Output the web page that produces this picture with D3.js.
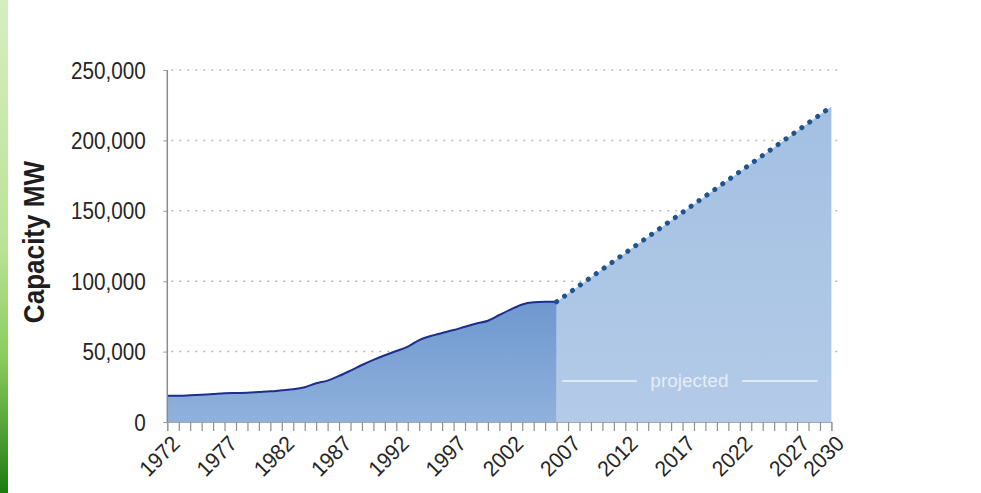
<!DOCTYPE html>
<html><head><meta charset="utf-8">
<script src="https://cdn.jsdelivr.net/npm/d3@7"></script>
<style>body{margin:0;background:#fff;}svg{display:block;}</style>
</head><body>
<svg id="c" width="981" height="493"></svg>
<script>
const histYears = d3.range(1972, 2007);
const histValues = [18700,18700,19000,19400,19900,20400,20600,20800,21300,21800,22500,23200,24700,27500,29400,32700,36500,40500,44100,47400,50400,53500,58200,61100,63200,65300,67700,70000,71900,76000,80000,83500,85000,85400,85400];
const projYears = [2006, 2030];
const projValues = [85400, 224000];
const yTicks = [0,50000,100000,150000,200000,250000];
const xLabelYears = [1972,1977,1982,1987,1992,1997,2002,2007,2012,2017,2022,2027,2030];
const yTitle = "Capacity MW";
const projLabel = "projected";

const svg = d3.select("#c");
const font = "'Liberation Sans',Arial,sans-serif";
const x = d3.scaleLinear().domain([1972,2030]).range([167.3,831.4]);
const y = d3.scaleLinear().domain([0,250000]).range([422,70]);

const defs = svg.append("defs");
const g1 = defs.append("linearGradient").attr("id","green").attr("x1",0).attr("y1",0).attr("x2",0).attr("y2",1);
[[0,"#d6eec0"],[0.5,"#bae397"],[0.72,"#8ccd5e"],[0.86,"#58a63a"],[1,"#1c7a12"]]
  .forEach(s=>g1.append("stop").attr("offset",s[0]).attr("stop-color",s[1]));
const g2 = defs.append("linearGradient").attr("id","hist").attr("x1",0).attr("y1",0).attr("x2",0).attr("y2",1);
g2.append("stop").attr("offset","0").attr("stop-color","#6f98cf");
g2.append("stop").attr("offset","1").attr("stop-color","#8fb1dc");
const g3 = defs.append("linearGradient").attr("id","proj").attr("x1",0).attr("y1",0).attr("x2",0).attr("y2",1);
g3.append("stop").attr("offset","0").attr("stop-color","#a3bfe2");
g3.append("stop").attr("offset","1").attr("stop-color","#b3cbe8");

svg.append("rect").attr("x",0).attr("y",0).attr("width",8).attr("height",493).attr("fill","url(#green)");

// gridlines
svg.append("g").selectAll("line").data(yTicks.filter(d=>d>0)).join("line")
  .attr("x1",x(1972)+4).attr("x2",838).attr("y1",d=>y(d)).attr("y2",d=>y(d))
  .attr("stroke","#b9b9b9").attr("stroke-width",1.5).attr("stroke-dasharray","2,6");

// areas
const hist = histYears.map((yr,i)=>({yr, v:histValues[i]}));
const proj = projYears.map((yr,i)=>({yr, v:projValues[i]}));
const area = d3.area().x(d=>x(d.yr)).y0(y(0)).y1(d=>y(d.v));
svg.append("path").datum(proj).attr("d",area).attr("fill","url(#proj)");
svg.append("path").datum(hist).attr("d",area.curve(d3.curveMonotoneX)).attr("fill","url(#hist)");
svg.append("path").datum(hist).attr("d",d3.line().x(d=>x(d.yr)).y(d=>y(d.v)).curve(d3.curveMonotoneX))
  .attr("fill","none").attr("stroke","#1c2f8c").attr("stroke-width",2);
svg.append("path").datum(proj).attr("d",d3.line().x(d=>x(d.yr)).y(d=>y(d.v)))
  .attr("fill","none").attr("stroke","#1c5591").attr("stroke-width",5)
  .attr("stroke-linecap","round").attr("stroke-dasharray","0.1,9.6");

// projected label
const py = 381;
svg.append("line").attr("x1",x(2006.5)).attr("x2",x(2013)).attr("y1",py).attr("y2",py).attr("stroke","#eef4fb").attr("stroke-width",1.5);
svg.append("line").attr("x1",x(2022.2)).attr("x2",x(2028.8)).attr("y1",py).attr("y2",py).attr("stroke","#eef4fb").attr("stroke-width",1.5);
svg.append("text").attr("x",(x(2013)+x(2022.2))/2).attr("y",py+6).attr("text-anchor","middle")
  .attr("font-family",font).attr("font-size",19).attr("fill","#e4edf8").text(projLabel);

// y axis
const yAxis = d3.axisLeft(y).tickValues(yTicks).tickFormat(d3.format(",")).tickSize(4).tickPadding(20);
const ya = svg.append("g").attr("transform",`translate(${x(1972)},0)`).call(yAxis);
ya.select(".domain").attr("stroke","#8a8a8a").attr("stroke-width",1.5).attr("d",`M0,${y(250000)}V${y(0)}`);
ya.selectAll(".tick line").attr("stroke","#9a9a9a");
ya.selectAll("text").attr("font-family",font).attr("font-size",23).attr("fill","#262626")
  .attr("transform","scale(0.9,1)").attr("dy","0.35em");

// x axis
const xAxis = d3.axisBottom(x).tickValues(d3.range(1972,2031)).tickSize(9).tickFormat("");
const xa = svg.append("g").attr("transform",`translate(0,${y(0)})`).call(xAxis);
xa.select(".domain").attr("stroke","#a8a8a8").attr("stroke-width",1);
xa.selectAll(".tick line").attr("stroke","#8f8f8f").attr("stroke-width",1.2);
svg.append("g").selectAll("text").data(xLabelYears).join("text")
  .attr("transform",d=>`translate(${x(d)+14},${y(0)+23}) rotate(-45) scale(0.95,1)`)
  .attr("text-anchor","end").attr("font-family",font).attr("font-size",22).attr("fill","#262626")
  .text(d=>d);

svg.append("text").attr("transform","translate(44,242) rotate(-90) scale(0.9,1)").attr("text-anchor","middle")
  .attr("font-family",font).attr("font-weight","bold").attr("font-size",29).attr("fill","#1e1e1e").text(yTitle);
</script>
</body></html>
